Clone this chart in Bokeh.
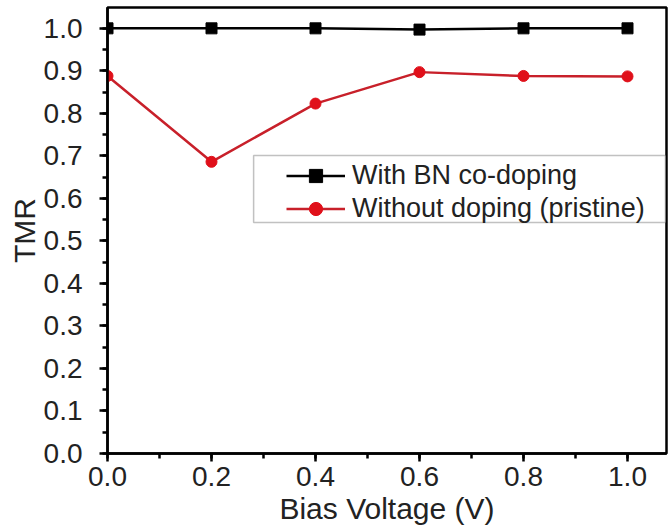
from bokeh.plotting import figure
from bokeh.models import (Range1d, SingleIntervalTicker, PrintfTickFormatter,
                          Legend, LegendItem, BoxAnnotation)
from bokeh.embed import file_html
from bokeh.resources import INLINE

bias = [0.0, 0.2, 0.4, 0.6, 0.8, 1.0]
tmr_bn = [1.0, 1.0, 1.0, 0.997, 1.0, 1.0]
tmr_pristine = [0.888, 0.686, 0.823, 0.897, 0.888, 0.887]
label_bn = "With BN co-doping"
label_pristine = "Without doping (pristine)"

FONT = "Liberation Sans"

p = figure(width=668, height=529, output_backend="svg", toolbar_location=None,
           x_range=Range1d(0, 1.075), y_range=Range1d(0, 1.049),
           min_border_left=107, min_border_right=2, min_border_top=7,
           min_border_bottom=76)
p.grid.visible = False
p.background_fill_color = "white"
p.border_fill_color = "white"
p.outline_line_color = "black"
p.outline_line_width = 2.5

for ax, interval in ((p.xaxis[0], 0.2), (p.yaxis[0], 0.1)):
    ax.ticker = SingleIntervalTicker(interval=interval, num_minor_ticks=2)
    ax.formatter = PrintfTickFormatter(format="%.1f")
    ax.axis_line_width = 2.5
    ax.axis_line_color = "black"
    ax.major_tick_line_width = 2.5
    ax.minor_tick_line_width = 2.5
    ax.major_tick_line_color = "black"
    ax.minor_tick_line_color = "black"
    ax.major_tick_in = 0
    ax.major_tick_out = 8
    ax.minor_tick_in = 0
    ax.minor_tick_out = 5
    ax.major_label_text_font = FONT
    ax.major_label_text_font_size = "28px"
    ax.major_label_text_color = "#222222"
    ax.axis_label_text_font = FONT
    ax.axis_label_text_font_size = "30px"
    ax.axis_label_text_font_style = "normal"
    ax.axis_label_text_color = "#222222"

p.xaxis.axis_label = "Bias Voltage (V)"
p.yaxis.axis_label = "TMR"
p.xaxis.major_label_standoff = 5
p.xaxis.axis_label_standoff = 3
p.yaxis.major_label_standoff = 17
p.yaxis.axis_label_standoff = 0

r1l = p.line(bias, tmr_bn, line_color="black", line_width=2.5)
r1m = p.scatter(bias, tmr_bn, marker="square", size=11, fill_color="black", line_color="black")
r2l = p.line(bias, tmr_pristine, line_color="#c8202a", line_width=2.5)
r2m = p.scatter(bias, tmr_pristine, marker="circle", size=11, fill_color="#e0101a", line_color="#e0101a")

# legend frame
box = BoxAnnotation(left=0.281, right=1.073, bottom=0.5435, top=0.701,
                    fill_color="white", fill_alpha=1.0,
                    line_color="#333333", line_width=1.5)
p.add_layout(box)

legend = Legend(items=[LegendItem(label=label_bn, renderers=[r1l, r1m]),
                       LegendItem(label=label_pristine, renderers=[r2l, r2m])],
                location=(179, 228), padding=0, margin=0, spacing=0,
                glyph_width=59, glyph_height=33, label_height=33,
                label_standoff=7,
                label_text_font=FONT, label_text_font_size="27px",
                label_text_color="#222222",
                border_line_alpha=0, background_fill_alpha=0)
p.add_layout(legend)

open("out.html", "w").write(file_html(p, INLINE))
